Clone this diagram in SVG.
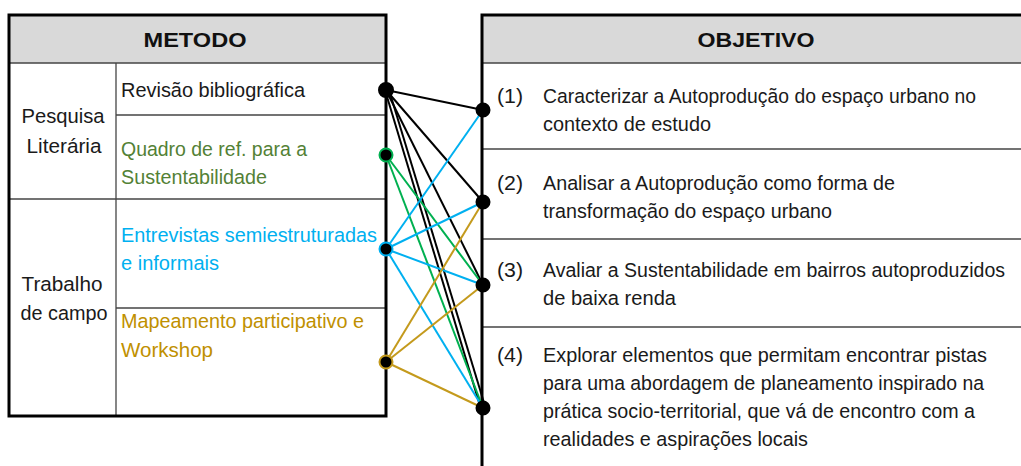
<svg xmlns="http://www.w3.org/2000/svg" width="1021" height="466" viewBox="0 0 1021 466">
<style>
text{font-family:"Liberation Sans",Arial,sans-serif;font-size:20.5px;fill:#1a1a1a}
.hd{font-weight:bold;font-size:21px;fill:#111;text-anchor:middle}
.mid{text-anchor:middle}
.sm{font-size:19.5px}
.hdr{fill:#d9d9d9;stroke:none}
.outer{fill:none;stroke:#000;stroke-width:3}
.inner{stroke:#444;stroke-width:1.3;fill:none}
.green{fill:#538135}
.blue{fill:#00b0f0}
.gold{fill:#bf9000}
.c line{stroke-width:2}
.k{stroke:#000}
.g{stroke:#00b050}
.b{stroke:#00b0f0}
.y{stroke:#c49a1c}
.dot{fill:#000;stroke-width:2}
</style>
<rect width="1021" height="466" fill="#fff"/>

<g id="metodo-table">
<rect class="hdr" x="9" y="15" width="378" height="48"/>
<line class="inner" x1="9" y1="63" x2="387" y2="63"/>
<line class="inner" x1="116" y1="63" x2="116" y2="416"/>
<line class="inner" x1="116" y1="115" x2="387" y2="115"/>
<line class="inner" x1="9" y1="199" x2="387" y2="199"/>
<line class="inner" x1="116" y1="308" x2="387" y2="308"/>
<rect class="outer" x="9" y="15" width="377" height="401"/>
<text class="hd" x="195" y="47" textLength="103" lengthAdjust="spacingAndGlyphs">METODO</text>
</g>

<g id="pesquisa-literaria">
<text class="mid" x="63" y="123" textLength="83" lengthAdjust="spacingAndGlyphs">Pesquisa</text>
<text class="mid" x="64" y="153" textLength="75" lengthAdjust="spacingAndGlyphs">Literária</text>
</g>
<g id="trabalho-de-campo">
<text class="mid" x="62" y="291" textLength="81" lengthAdjust="spacingAndGlyphs">Trabalho</text>
<text class="mid" x="64" y="320" textLength="87" lengthAdjust="spacingAndGlyphs">de campo</text>
</g>
<g id="m-revisao">
<text x="121" y="97" textLength="184" lengthAdjust="spacingAndGlyphs">Revisão bibliográfica</text>
</g>
<g id="m-quadro">
<text class="green" x="121" y="156" textLength="186" lengthAdjust="spacingAndGlyphs">Quadro de ref. para a</text>
<text class="green" x="121" y="184" textLength="146" lengthAdjust="spacingAndGlyphs">Sustentabilidade</text>
</g>
<g id="m-entrevistas">
<text class="blue" x="121" y="242" textLength="256" lengthAdjust="spacingAndGlyphs">Entrevistas semiestruturadas</text>
<text class="blue" x="121" y="270" textLength="98" lengthAdjust="spacingAndGlyphs">e informais</text>
</g>
<g id="m-mapeamento">
<text class="gold" x="121" y="328" textLength="243" lengthAdjust="spacingAndGlyphs">Mapeamento participativo e</text>
<text class="gold" x="121" y="357" textLength="92" lengthAdjust="spacingAndGlyphs">Workshop</text>
</g>

<g id="objetivo-table">
<rect class="hdr" x="482" y="15" width="545" height="48"/>
<line class="inner" x1="482" y1="63" x2="1021" y2="63"/>
<line class="inner" x1="482" y1="149" x2="1021" y2="149"/>
<line class="inner" x1="482" y1="239" x2="1021" y2="239"/>
<line class="inner" x1="482" y1="327" x2="1021" y2="327"/>
<path class="outer" d="M482,468 V15 H1025"/>
<text class="hd" x="756" y="47" textLength="117" lengthAdjust="spacingAndGlyphs">OBJETIVO</text>
</g>

<g id="obj-1">
<text x="497" y="103" textLength="26" lengthAdjust="spacingAndGlyphs">(1)</text>
<text x="543" y="103" textLength="433" lengthAdjust="spacingAndGlyphs">Caracterizar a Autoprodução do espaço urbano no</text>
<text x="543" y="131" textLength="168" lengthAdjust="spacingAndGlyphs">contexto de estudo</text>
</g>
<g id="obj-2">
<text x="497" y="190" textLength="26" lengthAdjust="spacingAndGlyphs">(2)</text>
<text x="543" y="190" textLength="352" lengthAdjust="spacingAndGlyphs">Analisar a Autoprodução como forma de</text>
<text x="543" y="218" textLength="289" lengthAdjust="spacingAndGlyphs">transformação do espaço urbano</text>
</g>
<g id="obj-3">
<text x="497" y="277" textLength="26" lengthAdjust="spacingAndGlyphs">(3)</text>
<text class="sm" x="543" y="277" textLength="462" lengthAdjust="spacingAndGlyphs">Avaliar a Sustentabilidade em bairros autoproduzidos</text>
<text x="543" y="305" textLength="133" lengthAdjust="spacingAndGlyphs">de baixa renda</text>
</g>
<g id="obj-4">
<text x="497" y="362" textLength="26" lengthAdjust="spacingAndGlyphs">(4)</text>
<text x="543" y="362" textLength="444" lengthAdjust="spacingAndGlyphs">Explorar elementos que permitam encontrar pistas</text>
<text x="543" y="390" textLength="441" lengthAdjust="spacingAndGlyphs">para uma abordagem de planeamento inspirado na</text>
<text x="543" y="418" textLength="432" lengthAdjust="spacingAndGlyphs">prática socio-territorial, que vá de encontro com a</text>
<text x="543" y="446" textLength="265" lengthAdjust="spacingAndGlyphs">realidades e aspirações locais</text>
</g>

<g id="connectors" class="c">
<line class="k" x1="386" y1="90" x2="483" y2="110"/>
<line class="k" x1="386" y1="90" x2="483" y2="202"/>
<line class="k" x1="386" y1="90" x2="483" y2="285"/>
<line class="k" x1="385" y1="90" x2="481" y2="409"/>
<line class="k" x1="389" y1="90" x2="485" y2="406"/>
<line class="g" x1="386" y1="155" x2="483" y2="285"/>
<line class="g" x1="386" y1="155" x2="483" y2="408"/>
<line class="b" x1="386" y1="249" x2="483" y2="110"/>
<line class="b" x1="386" y1="249" x2="483" y2="202"/>
<line class="b" x1="386" y1="249" x2="483" y2="285"/>
<line class="b" x1="386" y1="249" x2="483" y2="408"/>
<line class="y" x1="386" y1="362" x2="483" y2="202"/>
<line class="y" x1="386" y1="362" x2="483" y2="285"/>
<line class="y" x1="386" y1="362" x2="483" y2="408"/>
</g>

<g id="dots">
<circle class="dot" cx="386" cy="90" r="7" stroke="#000"/>
<circle class="dot" cx="386" cy="155" r="6.5" stroke="#00b050"/>
<circle class="dot" cx="386" cy="249" r="6.5" stroke="#00b0f0"/>
<circle class="dot" cx="386" cy="362" r="6.5" stroke="#c49a1c"/>
<circle class="dot" cx="483" cy="110" r="6.5" stroke="#000"/>
<circle class="dot" cx="483" cy="202" r="6.5" stroke="#000"/>
<circle class="dot" cx="483" cy="285" r="6.5" stroke="#000"/>
<circle class="dot" cx="483" cy="408" r="6.5" stroke="#000"/>
</g>
</svg>
